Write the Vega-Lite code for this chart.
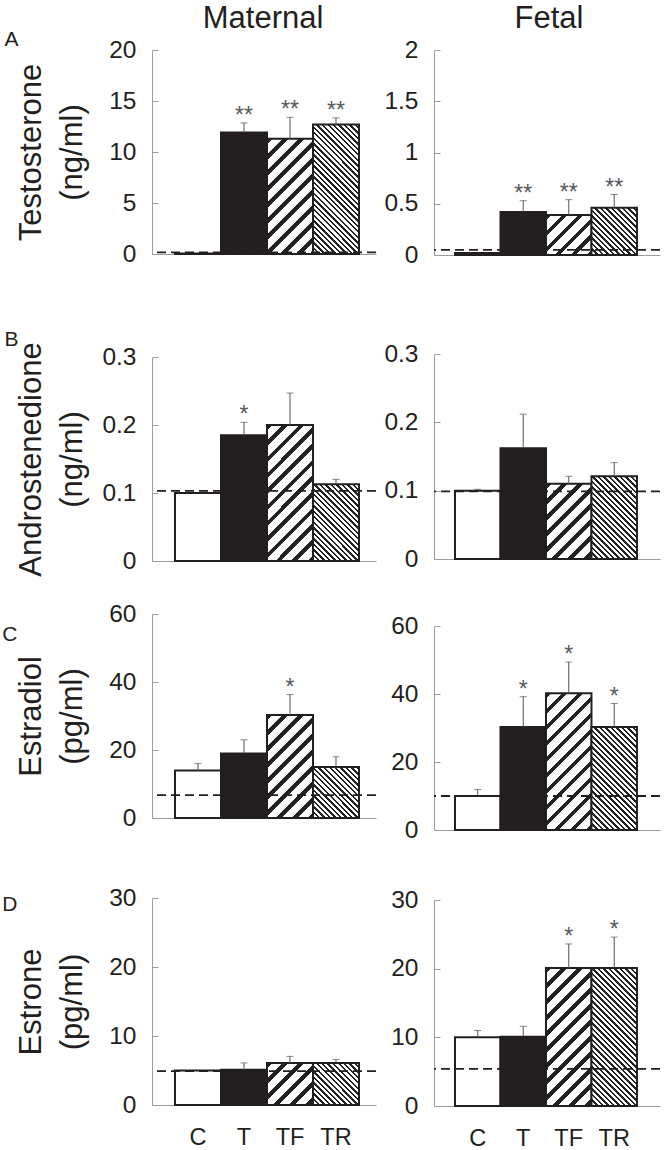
{
"padding": {"left": 2, "top": 2, "right": 0, "bottom": 0},
"background": "white",
"params": [
{"name": "tfStops", "value": [
{"offset":0,"color":"#222"},{"offset":0.0292,"color":"#222"},{"offset":0.0292,"color":"#fff"},{"offset":0.0833,"color":"#fff"},
{"offset":0.0833,"color":"#222"},{"offset":0.1125,"color":"#222"},{"offset":0.1125,"color":"#fff"},{"offset":0.1667,"color":"#fff"},
{"offset":0.1667,"color":"#222"},{"offset":0.1958,"color":"#222"},{"offset":0.1958,"color":"#fff"},{"offset":0.25,"color":"#fff"},
{"offset":0.25,"color":"#222"},{"offset":0.2792,"color":"#222"},{"offset":0.2792,"color":"#fff"},{"offset":0.3333,"color":"#fff"},
{"offset":0.3333,"color":"#222"},{"offset":0.3625,"color":"#222"},{"offset":0.3625,"color":"#fff"},{"offset":0.4167,"color":"#fff"},
{"offset":0.4167,"color":"#222"},{"offset":0.4458,"color":"#222"},{"offset":0.4458,"color":"#fff"},{"offset":0.5,"color":"#fff"},
{"offset":0.5,"color":"#222"},{"offset":0.5292,"color":"#222"},{"offset":0.5292,"color":"#fff"},{"offset":0.5833,"color":"#fff"},
{"offset":0.5833,"color":"#222"},{"offset":0.6125,"color":"#222"},{"offset":0.6125,"color":"#fff"},{"offset":0.6667,"color":"#fff"},
{"offset":0.6667,"color":"#222"},{"offset":0.6958,"color":"#222"},{"offset":0.6958,"color":"#fff"},{"offset":0.75,"color":"#fff"},
{"offset":0.75,"color":"#222"},{"offset":0.7792,"color":"#222"},{"offset":0.7792,"color":"#fff"},{"offset":0.8333,"color":"#fff"},
{"offset":0.8333,"color":"#222"},{"offset":0.8625,"color":"#222"},{"offset":0.8625,"color":"#fff"},{"offset":0.9167,"color":"#fff"},
{"offset":0.9167,"color":"#222"},{"offset":0.9458,"color":"#222"},{"offset":0.9458,"color":"#fff"},{"offset":1,"color":"#fff"}
]},
{"name": "trStops", "value": [
{"offset":0,"color":"#222"},{"offset":0.0129,"color":"#222"},{"offset":0.0129,"color":"#fff"},{"offset":0.0286,"color":"#fff"},
{"offset":0.0286,"color":"#222"},{"offset":0.0414,"color":"#222"},{"offset":0.0414,"color":"#fff"},{"offset":0.0571,"color":"#fff"},
{"offset":0.0571,"color":"#222"},{"offset":0.07,"color":"#222"},{"offset":0.07,"color":"#fff"},{"offset":0.0857,"color":"#fff"},
{"offset":0.0857,"color":"#222"},{"offset":0.0986,"color":"#222"},{"offset":0.0986,"color":"#fff"},{"offset":0.1143,"color":"#fff"},
{"offset":0.1143,"color":"#222"},{"offset":0.1271,"color":"#222"},{"offset":0.1271,"color":"#fff"},{"offset":0.1429,"color":"#fff"},
{"offset":0.1429,"color":"#222"},{"offset":0.1557,"color":"#222"},{"offset":0.1557,"color":"#fff"},{"offset":0.1714,"color":"#fff"},
{"offset":0.1714,"color":"#222"},{"offset":0.1843,"color":"#222"},{"offset":0.1843,"color":"#fff"},{"offset":0.2,"color":"#fff"},
{"offset":0.2,"color":"#222"},{"offset":0.2129,"color":"#222"},{"offset":0.2129,"color":"#fff"},{"offset":0.2286,"color":"#fff"},
{"offset":0.2286,"color":"#222"},{"offset":0.2414,"color":"#222"},{"offset":0.2414,"color":"#fff"},{"offset":0.2571,"color":"#fff"},
{"offset":0.2571,"color":"#222"},{"offset":0.27,"color":"#222"},{"offset":0.27,"color":"#fff"},{"offset":0.2857,"color":"#fff"},
{"offset":0.2857,"color":"#222"},{"offset":0.2986,"color":"#222"},{"offset":0.2986,"color":"#fff"},{"offset":0.3143,"color":"#fff"},
{"offset":0.3143,"color":"#222"},{"offset":0.3271,"color":"#222"},{"offset":0.3271,"color":"#fff"},{"offset":0.3429,"color":"#fff"},
{"offset":0.3429,"color":"#222"},{"offset":0.3557,"color":"#222"},{"offset":0.3557,"color":"#fff"},{"offset":0.3714,"color":"#fff"},
{"offset":0.3714,"color":"#222"},{"offset":0.3843,"color":"#222"},{"offset":0.3843,"color":"#fff"},{"offset":0.4,"color":"#fff"},
{"offset":0.4,"color":"#222"},{"offset":0.4129,"color":"#222"},{"offset":0.4129,"color":"#fff"},{"offset":0.4286,"color":"#fff"},
{"offset":0.4286,"color":"#222"},{"offset":0.4414,"color":"#222"},{"offset":0.4414,"color":"#fff"},{"offset":0.4571,"color":"#fff"},
{"offset":0.4571,"color":"#222"},{"offset":0.47,"color":"#222"},{"offset":0.47,"color":"#fff"},{"offset":0.4857,"color":"#fff"},
{"offset":0.4857,"color":"#222"},{"offset":0.4986,"color":"#222"},{"offset":0.4986,"color":"#fff"},{"offset":0.5143,"color":"#fff"},
{"offset":0.5143,"color":"#222"},{"offset":0.5271,"color":"#222"},{"offset":0.5271,"color":"#fff"},{"offset":0.5429,"color":"#fff"},
{"offset":0.5429,"color":"#222"},{"offset":0.5557,"color":"#222"},{"offset":0.5557,"color":"#fff"},{"offset":0.5714,"color":"#fff"},
{"offset":0.5714,"color":"#222"},{"offset":0.5843,"color":"#222"},{"offset":0.5843,"color":"#fff"},{"offset":0.6,"color":"#fff"},
{"offset":0.6,"color":"#222"},{"offset":0.6129,"color":"#222"},{"offset":0.6129,"color":"#fff"},{"offset":0.6286,"color":"#fff"},
{"offset":0.6286,"color":"#222"},{"offset":0.6414,"color":"#222"},{"offset":0.6414,"color":"#fff"},{"offset":0.6571,"color":"#fff"},
{"offset":0.6571,"color":"#222"},{"offset":0.67,"color":"#222"},{"offset":0.67,"color":"#fff"},{"offset":0.6857,"color":"#fff"},
{"offset":0.6857,"color":"#222"},{"offset":0.6986,"color":"#222"},{"offset":0.6986,"color":"#fff"},{"offset":0.7143,"color":"#fff"},
{"offset":0.7143,"color":"#222"},{"offset":0.7271,"color":"#222"},{"offset":0.7271,"color":"#fff"},{"offset":0.7429,"color":"#fff"},
{"offset":0.7429,"color":"#222"},{"offset":0.7557,"color":"#222"},{"offset":0.7557,"color":"#fff"},{"offset":0.7714,"color":"#fff"},
{"offset":0.7714,"color":"#222"},{"offset":0.7843,"color":"#222"},{"offset":0.7843,"color":"#fff"},{"offset":0.8,"color":"#fff"},
{"offset":0.8,"color":"#222"},{"offset":0.8129,"color":"#222"},{"offset":0.8129,"color":"#fff"},{"offset":0.8286,"color":"#fff"},
{"offset":0.8286,"color":"#222"},{"offset":0.8414,"color":"#222"},{"offset":0.8414,"color":"#fff"},{"offset":0.8571,"color":"#fff"},
{"offset":0.8571,"color":"#222"},{"offset":0.87,"color":"#222"},{"offset":0.87,"color":"#fff"},{"offset":0.8857,"color":"#fff"},
{"offset":0.8857,"color":"#222"},{"offset":0.8986,"color":"#222"},{"offset":0.8986,"color":"#fff"},{"offset":0.9143,"color":"#fff"},
{"offset":0.9143,"color":"#222"},{"offset":0.9271,"color":"#222"},{"offset":0.9271,"color":"#fff"},{"offset":0.9429,"color":"#fff"},
{"offset":0.9429,"color":"#222"},{"offset":0.9557,"color":"#222"},{"offset":0.9557,"color":"#fff"},{"offset":0.9714,"color":"#fff"},
{"offset":0.9714,"color":"#222"},{"offset":0.9843,"color":"#222"},{"offset":0.9843,"color":"#fff"},{"offset":1,"color":"#fff"}
]}
],
"datasets": {
"bars": [
{"p":"A1","g":"C","m":0.05,"u":null,"s":""},
{"p":"A1","g":"T","m":11.9,"u":12.85,"s":"**"},
{"p":"A1","g":"TF","m":11.3,"u":13.4,"s":"**"},
{"p":"A1","g":"TR","m":12.7,"u":13.35,"s":"**"},
{"p":"A2","g":"C","m":0.02,"u":null,"s":""},
{"p":"A2","g":"T","m":0.42,"u":0.53,"s":"**"},
{"p":"A2","g":"TF","m":0.39,"u":0.54,"s":"**"},
{"p":"A2","g":"TR","m":0.46,"u":0.59,"s":"**"},
{"p":"B1","g":"C","m":0.1,"u":null,"s":""},
{"p":"B1","g":"T","m":0.185,"u":0.204,"s":"*"},
{"p":"B1","g":"TF","m":0.2,"u":0.247,"s":""},
{"p":"B1","g":"TR","m":0.113,"u":0.12,"s":""},
{"p":"B2","g":"C","m":0.1,"u":0.102,"s":""},
{"p":"B2","g":"T","m":0.162,"u":0.212,"s":""},
{"p":"B2","g":"TF","m":0.11,"u":0.121,"s":""},
{"p":"B2","g":"TR","m":0.121,"u":0.141,"s":""},
{"p":"C1","g":"C","m":14,"u":16,"s":""},
{"p":"C1","g":"T","m":19,"u":23,"s":""},
{"p":"C1","g":"TF","m":30.3,"u":36.3,"s":"*"},
{"p":"C1","g":"TR","m":15,"u":18,"s":""},
{"p":"C2","g":"C","m":10,"u":11.9,"s":""},
{"p":"C2","g":"T","m":30.3,"u":39.2,"s":"*"},
{"p":"C2","g":"TF","m":40.2,"u":49.4,"s":"*"},
{"p":"C2","g":"TR","m":30.3,"u":37.2,"s":"*"},
{"p":"D1","g":"C","m":5,"u":null,"s":""},
{"p":"D1","g":"T","m":5.1,"u":6.1,"s":""},
{"p":"D1","g":"TF","m":6.1,"u":7.05,"s":""},
{"p":"D1","g":"TR","m":6.1,"u":6.6,"s":""},
{"p":"D2","g":"C","m":10,"u":11,"s":""},
{"p":"D2","g":"T","m":10.1,"u":11.6,"s":""},
{"p":"D2","g":"TF","m":20.1,"u":23.6,"s":"*"},
{"p":"D2","g":"TR","m":20.1,"u":24.6,"s":"*"}
],
"refs": [
{"p":"A1","ref":0.15},{"p":"A2","ref":0.05},{"p":"B1","ref":0.103},{"p":"B2","ref":0.099},
{"p":"C1","ref":6.7},{"p":"C2","ref":10},{"p":"D1","ref":4.9},{"p":"D2","ref":5.4}
]
},
"spacing": 6,
"hconcat": [
{
"title": {"text":"Maternal","fontSize":31,"baseline":"alphabetic","offset":-29.8,"dx":73.5,"anchor":"middle"},
"spacing": 0,
"vconcat": [
{
"width": 224, "height": 204,
"title": {"text":"A","orient":"left","anchor":"end","frame":"group","angle":0,"align":"right","baseline":"alphabetic","fontSize":21,"offset":-17.5,"dy":-4},
"layer": [
{"data":{"name":"bars"},"transform":[{"filter":"datum.p=='A1'"}],
"mark":{"type":"bar","stroke":"#231f20","strokeWidth":2,"fill":{"expr":"datum.g=='C'?'#fff':datum.g=='T'?'#231f20':datum.g=='TF'?{gradient:'linear',x1:0,y1:0,x2:46*192/(2116+pow(datum.m*10.2,2)),y2:datum.m*10.2*192/(2116+pow(datum.m*10.2,2)),stops:tfStops}:{gradient:'linear',x1:0,y1:1,x2:46*192.5/(2116+pow(datum.m*10.2,2)),y2:1-datum.m*10.2*192.5/(2116+pow(datum.m*10.2,2)),stops:trStops}"}},
"encoding":{"x":{"field":"g","type":"nominal","scale":{"domain":["C","T","TF","TR"],"paddingInner":0,"paddingOuter":0.435,"align":0.575},"axis":{"labels":false,"ticks":false,"title":" ","titleFontSize":1,"titlePadding":74,"minExtent":0,"maxExtent":0}},
"y":{"field":"m","type":"quantitative","stack":null,"scale":{"domain":[0,20],"nice":false},"axis":{"values":[0,5,10,15,20],"format":".1~f","title":["Testosterone","(ng/ml)"]}}}},
{"data":{"name":"bars"},"transform":[{"filter":"datum.p=='A1' && isValid(datum.u)"}],
"mark":{"type":"rule","color":"#555","strokeWidth":1},
"encoding":{"x":{"field":"g","type":"nominal"},"y":{"field":"m","type":"quantitative"},"y2":{"field":"u"}}},
{"data":{"name":"bars"},"transform":[{"filter":"datum.p=='A1' && isValid(datum.u)"}],
"mark":{"type":"tick","color":"#555","size":7,"thickness":1},
"encoding":{"x":{"field":"g","type":"nominal"},"y":{"field":"u","type":"quantitative"}}},
{"data":{"name":"refs"},"transform":[{"filter":"datum.p=='A1'"}],
"mark":{"type":"rule","color":"#231f20","strokeWidth":1.8,"strokeDash":[9,5]},
"encoding":{"y":{"field":"ref","type":"quantitative"}}},
{"data":{"name":"bars"},"transform":[{"filter":"datum.p=='A1' && datum.s!=''"}],
"mark":{"type":"text","fontSize":23,"color":"#58595b","baseline":"alphabetic"},
"encoding":{"x":{"field":"g","type":"nominal"},"y":{"field":"u","type":"quantitative"},"text":{"field":"s"}}}
]
},
{
"width": 224, "height": 204,
"title": {"text":"B","orient":"left","anchor":"end","frame":"group","angle":0,"align":"right","baseline":"alphabetic","fontSize":21,"offset":-17.5,"dy":-11},
"layer": [
{"data":{"name":"bars"},"transform":[{"filter":"datum.p=='B1'"}],
"mark":{"type":"bar","stroke":"#231f20","strokeWidth":2,"fill":{"expr":"datum.g=='C'?'#fff':datum.g=='T'?'#231f20':datum.g=='TF'?{gradient:'linear',x1:0,y1:0,x2:46*192/(2116+pow(datum.m*680,2)),y2:datum.m*680*192/(2116+pow(datum.m*680,2)),stops:tfStops}:{gradient:'linear',x1:0,y1:1,x2:46*192.5/(2116+pow(datum.m*680,2)),y2:1-datum.m*680*192.5/(2116+pow(datum.m*680,2)),stops:trStops}"}},
"encoding":{"x":{"field":"g","type":"nominal","scale":{"domain":["C","T","TF","TR"],"paddingInner":0,"paddingOuter":0.435,"align":0.575},"axis":{"labels":false,"ticks":false,"title":" ","titleFontSize":1,"titlePadding":38.25,"minExtent":0,"maxExtent":0}},
"y":{"field":"m","type":"quantitative","stack":null,"scale":{"domain":[0,0.3],"nice":false},"axis":{"values":[0,0.1,0.2,0.3],"format":".1~f","title":["Androstenedione","(ng/ml)"]}}}},
{"data":{"name":"bars"},"transform":[{"filter":"datum.p=='B1' && isValid(datum.u)"}],
"mark":{"type":"rule","color":"#555","strokeWidth":1},
"encoding":{"x":{"field":"g","type":"nominal"},"y":{"field":"m","type":"quantitative"},"y2":{"field":"u"}}},
{"data":{"name":"bars"},"transform":[{"filter":"datum.p=='B1' && isValid(datum.u)"}],
"mark":{"type":"tick","color":"#555","size":7,"thickness":1},
"encoding":{"x":{"field":"g","type":"nominal"},"y":{"field":"u","type":"quantitative"}}},
{"data":{"name":"refs"},"transform":[{"filter":"datum.p=='B1'"}],
"mark":{"type":"rule","color":"#231f20","strokeWidth":1.8,"strokeDash":[9,5]},
"encoding":{"y":{"field":"ref","type":"quantitative"}}},
{"data":{"name":"bars"},"transform":[{"filter":"datum.p=='B1' && datum.s!=''"}],
"mark":{"type":"text","fontSize":23,"color":"#58595b","baseline":"alphabetic"},
"encoding":{"x":{"field":"g","type":"nominal"},"y":{"field":"u","type":"quantitative"},"text":{"field":"s"}}}
]
},
{
"width": 224, "height": 204,
"title": {"text":"C","orient":"left","anchor":"end","frame":"group","angle":0,"align":"right","baseline":"alphabetic","fontSize":21,"offset":-17.5,"dy":27},
"layer": [
{"data":{"name":"bars"},"transform":[{"filter":"datum.p=='C1'"}],
"mark":{"type":"bar","stroke":"#231f20","strokeWidth":2,"fill":{"expr":"datum.g=='C'?'#fff':datum.g=='T'?'#231f20':datum.g=='TF'?{gradient:'linear',x1:0,y1:0,x2:46*192/(2116+pow(datum.m*3.4,2)),y2:datum.m*3.4*192/(2116+pow(datum.m*3.4,2)),stops:tfStops}:{gradient:'linear',x1:0,y1:1,x2:46*192.5/(2116+pow(datum.m*3.4,2)),y2:1-datum.m*3.4*192.5/(2116+pow(datum.m*3.4,2)),stops:trStops}"}},
"encoding":{"x":{"field":"g","type":"nominal","scale":{"domain":["C","T","TF","TR"],"paddingInner":0,"paddingOuter":0.435,"align":0.575},"axis":{"labels":false,"ticks":false,"title":" ","titleFontSize":1,"titlePadding":65.25,"minExtent":0,"maxExtent":0}},
"y":{"field":"m","type":"quantitative","stack":null,"scale":{"domain":[0,60],"nice":false},"axis":{"values":[0,20,40,60],"format":".1~f","title":["Estradiol","(pg/ml)"]}}}},
{"data":{"name":"bars"},"transform":[{"filter":"datum.p=='C1' && isValid(datum.u)"}],
"mark":{"type":"rule","color":"#555","strokeWidth":1},
"encoding":{"x":{"field":"g","type":"nominal"},"y":{"field":"m","type":"quantitative"},"y2":{"field":"u"}}},
{"data":{"name":"bars"},"transform":[{"filter":"datum.p=='C1' && isValid(datum.u)"}],
"mark":{"type":"tick","color":"#555","size":7,"thickness":1},
"encoding":{"x":{"field":"g","type":"nominal"},"y":{"field":"u","type":"quantitative"}}},
{"data":{"name":"refs"},"transform":[{"filter":"datum.p=='C1'"}],
"mark":{"type":"rule","color":"#231f20","strokeWidth":1.8,"strokeDash":[9,5]},
"encoding":{"y":{"field":"ref","type":"quantitative"}}},
{"data":{"name":"bars"},"transform":[{"filter":"datum.p=='C1' && datum.s!=''"}],
"mark":{"type":"text","fontSize":23,"color":"#58595b","baseline":"alphabetic"},
"encoding":{"x":{"field":"g","type":"nominal"},"y":{"field":"u","type":"quantitative"},"text":{"field":"s"}}}
]
},
{
"width": 224, "height": 207,
"title": {"text":"D","orient":"left","anchor":"end","frame":"group","angle":0,"align":"right","baseline":"alphabetic","fontSize":21,"offset":-17.5,"dy":13},
"layer": [
{"data":{"name":"bars"},"transform":[{"filter":"datum.p=='D1'"}],
"mark":{"type":"bar","stroke":"#231f20","strokeWidth":2,"fill":{"expr":"datum.g=='C'?'#fff':datum.g=='T'?'#231f20':datum.g=='TF'?{gradient:'linear',x1:0,y1:0,x2:46*192/(2116+pow(datum.m*6.9,2)),y2:datum.m*6.9*192/(2116+pow(datum.m*6.9,2)),stops:tfStops}:{gradient:'linear',x1:0,y1:1,x2:46*192.5/(2116+pow(datum.m*6.9,2)),y2:1-datum.m*6.9*192.5/(2116+pow(datum.m*6.9,2)),stops:trStops}"}},
"encoding":{"x":{"field":"g","type":"nominal","scale":{"domain":["C","T","TF","TR"],"paddingInner":0,"paddingOuter":0.435,"align":0.575},"axis":{"title":null}},
"y":{"field":"m","type":"quantitative","stack":null,"scale":{"domain":[0,30],"nice":false},"axis":{"values":[0,10,20,30],"format":".1~f","title":["Estrone","(pg/ml)"]}}}},
{"data":{"name":"bars"},"transform":[{"filter":"datum.p=='D1' && isValid(datum.u)"}],
"mark":{"type":"rule","color":"#555","strokeWidth":1},
"encoding":{"x":{"field":"g","type":"nominal"},"y":{"field":"m","type":"quantitative"},"y2":{"field":"u"}}},
{"data":{"name":"bars"},"transform":[{"filter":"datum.p=='D1' && isValid(datum.u)"}],
"mark":{"type":"tick","color":"#555","size":7,"thickness":1},
"encoding":{"x":{"field":"g","type":"nominal"},"y":{"field":"u","type":"quantitative"}}},
{"data":{"name":"refs"},"transform":[{"filter":"datum.p=='D1'"}],
"mark":{"type":"rule","color":"#231f20","strokeWidth":1.8,"strokeDash":[9,5]},
"encoding":{"y":{"field":"ref","type":"quantitative"}}},
{"data":{"name":"bars"},"transform":[{"filter":"datum.p=='D1' && datum.s!=''"}],
"mark":{"type":"text","fontSize":23,"color":"#58595b","baseline":"alphabetic"},
"encoding":{"x":{"field":"g","type":"nominal"},"y":{"field":"u","type":"quantitative"},"text":{"field":"s"}}}
]
}
]
},
{
"title": {"text":"Fetal","fontSize":31,"baseline":"alphabetic","offset":-21.75,"dx":26.5,"anchor":"middle"},
"spacing": 0,
"vconcat": [
{
"width": 226, "height": 205,
"layer": [
{"data":{"name":"bars"},"transform":[{"filter":"datum.p=='A2'"}],
"mark":{"type":"bar","stroke":"#231f20","strokeWidth":2,"fill":{"expr":"datum.g=='C'?'#fff':datum.g=='T'?'#231f20':datum.g=='TF'?{gradient:'linear',x1:0,y1:0,x2:45.5*192/(2070.25+pow(datum.m*102.5,2)),y2:datum.m*102.5*192/(2070.25+pow(datum.m*102.5,2)),stops:tfStops}:{gradient:'linear',x1:0,y1:1,x2:45.5*192.5/(2070.25+pow(datum.m*102.5,2)),y2:1-datum.m*102.5*192.5/(2070.25+pow(datum.m*102.5,2)),stops:trStops}"}},
"encoding":{"x":{"field":"g","type":"nominal","scale":{"domain":["C","T","TF","TR"],"paddingInner":0,"paddingOuter":0.484,"align":0.477},"axis":{"labels":false,"ticks":false,"title":" ","titleFontSize":1,"titlePadding":84.25,"minExtent":0,"maxExtent":0}},
"y":{"field":"m","type":"quantitative","stack":null,"scale":{"domain":[0,2],"nice":false},"axis":{"values":[0,0.5,1,1.5,2],"format":".1~f","title":" ","titleFontSize":1,"titlePadding":0,"minExtent":43,"maxExtent":43}}}},
{"data":{"name":"bars"},"transform":[{"filter":"datum.p=='A2' && isValid(datum.u)"}],
"mark":{"type":"rule","color":"#555","strokeWidth":1},
"encoding":{"x":{"field":"g","type":"nominal"},"y":{"field":"m","type":"quantitative"},"y2":{"field":"u"}}},
{"data":{"name":"bars"},"transform":[{"filter":"datum.p=='A2' && isValid(datum.u)"}],
"mark":{"type":"tick","color":"#555","size":7,"thickness":1},
"encoding":{"x":{"field":"g","type":"nominal"},"y":{"field":"u","type":"quantitative"}}},
{"data":{"name":"refs"},"transform":[{"filter":"datum.p=='A2'"}],
"mark":{"type":"rule","color":"#231f20","strokeWidth":1.8,"strokeDash":[9,5]},
"encoding":{"y":{"field":"ref","type":"quantitative"}}},
{"data":{"name":"bars"},"transform":[{"filter":"datum.p=='A2' && datum.s!=''"}],
"mark":{"type":"text","fontSize":23,"color":"#58595b","baseline":"alphabetic"},
"encoding":{"x":{"field":"g","type":"nominal"},"y":{"field":"u","type":"quantitative"},"text":{"field":"s"}}}
]
},
{
"width": 226, "height": 205,
"layer": [
{"data":{"name":"bars"},"transform":[{"filter":"datum.p=='B2'"}],
"mark":{"type":"bar","stroke":"#231f20","strokeWidth":2,"fill":{"expr":"datum.g=='C'?'#fff':datum.g=='T'?'#231f20':datum.g=='TF'?{gradient:'linear',x1:0,y1:0,x2:45.5*192/(2070.25+pow(datum.m*683.33,2)),y2:datum.m*683.33*192/(2070.25+pow(datum.m*683.33,2)),stops:tfStops}:{gradient:'linear',x1:0,y1:1,x2:45.5*192.5/(2070.25+pow(datum.m*683.33,2)),y2:1-datum.m*683.33*192.5/(2070.25+pow(datum.m*683.33,2)),stops:trStops}"}},
"encoding":{"x":{"field":"g","type":"nominal","scale":{"domain":["C","T","TF","TR"],"paddingInner":0,"paddingOuter":0.484,"align":0.477},"axis":{"labels":false,"ticks":false,"title":" ","titleFontSize":1,"titlePadding":52.75,"minExtent":0,"maxExtent":0}},
"y":{"field":"m","type":"quantitative","stack":null,"scale":{"domain":[0,0.3],"nice":false},"axis":{"values":[0,0.1,0.2,0.3],"format":".1~f","title":" ","titleFontSize":1,"titlePadding":0,"minExtent":43,"maxExtent":43}}}},
{"data":{"name":"bars"},"transform":[{"filter":"datum.p=='B2' && isValid(datum.u)"}],
"mark":{"type":"rule","color":"#555","strokeWidth":1},
"encoding":{"x":{"field":"g","type":"nominal"},"y":{"field":"m","type":"quantitative"},"y2":{"field":"u"}}},
{"data":{"name":"bars"},"transform":[{"filter":"datum.p=='B2' && isValid(datum.u)"}],
"mark":{"type":"tick","color":"#555","size":7,"thickness":1},
"encoding":{"x":{"field":"g","type":"nominal"},"y":{"field":"u","type":"quantitative"}}},
{"data":{"name":"refs"},"transform":[{"filter":"datum.p=='B2'"}],
"mark":{"type":"rule","color":"#231f20","strokeWidth":1.8,"strokeDash":[9,5]},
"encoding":{"y":{"field":"ref","type":"quantitative"}}},
{"data":{"name":"bars"},"transform":[{"filter":"datum.p=='B2' && datum.s!=''"}],
"mark":{"type":"text","fontSize":23,"color":"#58595b","baseline":"alphabetic"},
"encoding":{"x":{"field":"g","type":"nominal"},"y":{"field":"u","type":"quantitative"},"text":{"field":"s"}}}
]
},
{
"width": 226, "height": 204,
"layer": [
{"data":{"name":"bars"},"transform":[{"filter":"datum.p=='C2'"}],
"mark":{"type":"bar","stroke":"#231f20","strokeWidth":2,"fill":{"expr":"datum.g=='C'?'#fff':datum.g=='T'?'#231f20':datum.g=='TF'?{gradient:'linear',x1:0,y1:0,x2:45.5*192/(2070.25+pow(datum.m*3.4,2)),y2:datum.m*3.4*192/(2070.25+pow(datum.m*3.4,2)),stops:tfStops}:{gradient:'linear',x1:0,y1:1,x2:45.5*192.5/(2070.25+pow(datum.m*3.4,2)),y2:1-datum.m*3.4*192.5/(2070.25+pow(datum.m*3.4,2)),stops:trStops}"}},
"encoding":{"x":{"field":"g","type":"nominal","scale":{"domain":["C","T","TF","TR"],"paddingInner":0,"paddingOuter":0.484,"align":0.477},"axis":{"labels":false,"ticks":false,"title":" ","titleFontSize":1,"titlePadding":55.25,"minExtent":0,"maxExtent":0}},
"y":{"field":"m","type":"quantitative","stack":null,"scale":{"domain":[0,60],"nice":false},"axis":{"values":[0,20,40,60],"format":".1~f","title":" ","titleFontSize":1,"titlePadding":0,"minExtent":43,"maxExtent":43}}}},
{"data":{"name":"bars"},"transform":[{"filter":"datum.p=='C2' && isValid(datum.u)"}],
"mark":{"type":"rule","color":"#555","strokeWidth":1},
"encoding":{"x":{"field":"g","type":"nominal"},"y":{"field":"m","type":"quantitative"},"y2":{"field":"u"}}},
{"data":{"name":"bars"},"transform":[{"filter":"datum.p=='C2' && isValid(datum.u)"}],
"mark":{"type":"tick","color":"#555","size":7,"thickness":1},
"encoding":{"x":{"field":"g","type":"nominal"},"y":{"field":"u","type":"quantitative"}}},
{"data":{"name":"refs"},"transform":[{"filter":"datum.p=='C2'"}],
"mark":{"type":"rule","color":"#231f20","strokeWidth":1.8,"strokeDash":[9,5]},
"encoding":{"y":{"field":"ref","type":"quantitative"}}},
{"data":{"name":"bars"},"transform":[{"filter":"datum.p=='C2' && datum.s!=''"}],
"mark":{"type":"text","fontSize":23,"color":"#58595b","baseline":"alphabetic"},
"encoding":{"x":{"field":"g","type":"nominal"},"y":{"field":"u","type":"quantitative"},"text":{"field":"s"}}}
]
},
{
"width": 226, "height": 206,
"layer": [
{"data":{"name":"bars"},"transform":[{"filter":"datum.p=='D2'"}],
"mark":{"type":"bar","stroke":"#231f20","strokeWidth":2,"fill":{"expr":"datum.g=='C'?'#fff':datum.g=='T'?'#231f20':datum.g=='TF'?{gradient:'linear',x1:0,y1:0,x2:45.5*192/(2070.25+pow(datum.m*6.8667,2)),y2:datum.m*6.8667*192/(2070.25+pow(datum.m*6.8667,2)),stops:tfStops}:{gradient:'linear',x1:0,y1:1,x2:45.5*192.5/(2070.25+pow(datum.m*6.8667,2)),y2:1-datum.m*6.8667*192.5/(2070.25+pow(datum.m*6.8667,2)),stops:trStops}"}},
"encoding":{"x":{"field":"g","type":"nominal","scale":{"domain":["C","T","TF","TR"],"paddingInner":0,"paddingOuter":0.484,"align":0.477},"axis":{"title":null}},
"y":{"field":"m","type":"quantitative","stack":null,"scale":{"domain":[0,30],"nice":false},"axis":{"values":[0,10,20,30],"format":".1~f","title":" ","titleFontSize":1,"titlePadding":0,"minExtent":43,"maxExtent":43}}}},
{"data":{"name":"bars"},"transform":[{"filter":"datum.p=='D2' && isValid(datum.u)"}],
"mark":{"type":"rule","color":"#555","strokeWidth":1},
"encoding":{"x":{"field":"g","type":"nominal"},"y":{"field":"m","type":"quantitative"},"y2":{"field":"u"}}},
{"data":{"name":"bars"},"transform":[{"filter":"datum.p=='D2' && isValid(datum.u)"}],
"mark":{"type":"tick","color":"#555","size":7,"thickness":1},
"encoding":{"x":{"field":"g","type":"nominal"},"y":{"field":"u","type":"quantitative"}}},
{"data":{"name":"refs"},"transform":[{"filter":"datum.p=='D2'"}],
"mark":{"type":"rule","color":"#231f20","strokeWidth":1.8,"strokeDash":[9,5]},
"encoding":{"y":{"field":"ref","type":"quantitative"}}},
{"data":{"name":"bars"},"transform":[{"filter":"datum.p=='D2' && datum.s!=''"}],
"mark":{"type":"text","fontSize":23,"color":"#58595b","baseline":"alphabetic"},
"encoding":{"x":{"field":"g","type":"nominal"},"y":{"field":"u","type":"quantitative"},"text":{"field":"s"}}}
]
}
]
}
],
"config": {
"font": "Liberation Sans",
"view": {"stroke": null},
"axis": {"grid": false, "domainColor": "#9d9d9d", "domainWidth": 1, "tickColor": "#9d9d9d", "labelColor": "#231f20", "titleColor": "#231f20", "titleFontWeight": "normal", "labelFont": "Liberation Sans", "titleFont": "Liberation Sans"},
"axisY": {"tickSize": -6, "labelPadding": 22, "labelFontSize": 24.5, "minExtent": 60, "maxExtent": 60, "titleFontSize": 31, "titleLineHeight": 41, "titlePadding": 4},
"axisX": {"ticks": false, "tickSize": 0, "labelFontSize": 23.5, "labelPadding": 20, "labelAngle": 0},
"title": {"font": "Liberation Sans", "fontWeight": "normal", "color": "#231f20"}
}
}
